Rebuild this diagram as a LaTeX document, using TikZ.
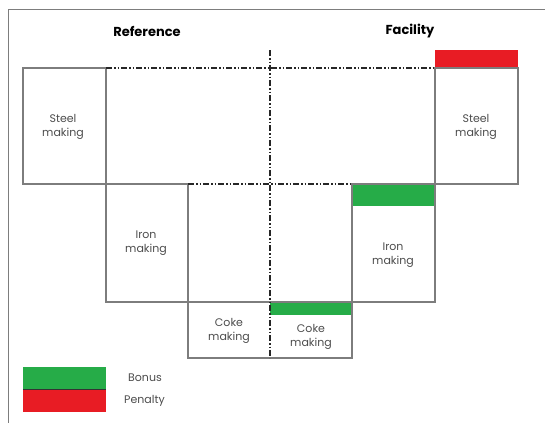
\documentclass[tikz,border=0pt]{standalone}
\usepackage{fontspec}
\setmainfont{Poppins}
\usetikzlibrary{positioning}
\definecolor{bonus}{RGB}{38,172,72}
\definecolor{penalty}{RGB}{232,28,36}
\definecolor{linegray}{RGB}{125,125,125}

\begin{document}
\begin{tikzpicture}[x=1pt,y=-1pt,font=\fontsize{11}{13.5}\selectfont]
        \tikzstyle{unit}=[draw=linegray,line width=1.1pt]
        \tikzstyle{axis}=[line width=1.8pt,black!85,dash pattern=on 6pt off 2pt on 1.5pt off 2pt on 1.5pt off 2pt]
        \tikzstyle{lbl}=[align=center,text=black!70,inner sep=1pt]
        \tikzstyle{head}=[font=\fontsize{13}{15}\selectfont\bfseries]

        \useasboundingbox (0,0) rectangle (545,423);
        \draw[draw=linegray,line width=1pt] (545,9) -- (8,9) -- (8,423); %frame

        % headings
        \node [head] (ref) at (147,31) {Reference};
        \node [head] (fac) at (410,31) {Facility};

        % reference side
        \draw [unit] (23,68) rectangle (106,184);                  %steel
        \draw [unit] (106,184) rectangle (188,302);                %iron
        \draw [unit] (188,184) -- (188,358) -- (270,358);          %coke
        \draw [unit] (23,184) -- (188,184);
        \node [lbl] (rsteel) at (63,127) {Steel\\making};
        \node [lbl] (riron) at (146,243) {Iron\\making};
        \node [lbl] (rcoke) at (229,331) {Coke\\making};

        % facility side
        \fill [penalty] (435,50) rectangle (518,68);
        \draw [unit] (435,68) rectangle (518,184);                 %steel
        \fill [bonus] (352,184) rectangle (435,206);
        \draw [unit] (352,184) rectangle (435,302);                %iron
        \fill [bonus] (270,302) rectangle (352,315);
        \draw [unit] (270,358) -- (352,358) -- (352,302);          %coke
        \draw [unit] (188,302) -- (352,302);
        \draw [unit] (435,184) -- (518,184);
        \node [lbl] (fsteel) at (476,127) {Steel\\making};
        \node [lbl] (firon) at (393,255) {Iron\\making};
        \node [lbl] (fcoke) at (311,337) {Coke\\making};

        % levels and divider
        \draw [axis] (106,68) -- (435,68);
        \draw [axis] (188,184) -- (352,184);
        \draw [axis] (270,50) -- (270,358);

        % legend
        \fill [bonus] (23,367) rectangle (106,389);
        \fill [penalty] (23,389) rectangle (106,412);
        \draw [black!80,line width=0.8pt] (23,389) -- (106,389);
        \node [lbl,anchor=west] (bonus) at (127,378) {Bonus};
        \node [lbl,anchor=west] (penalty) at (123,401) {Penalty};
    \end{tikzpicture}
\end{document}
